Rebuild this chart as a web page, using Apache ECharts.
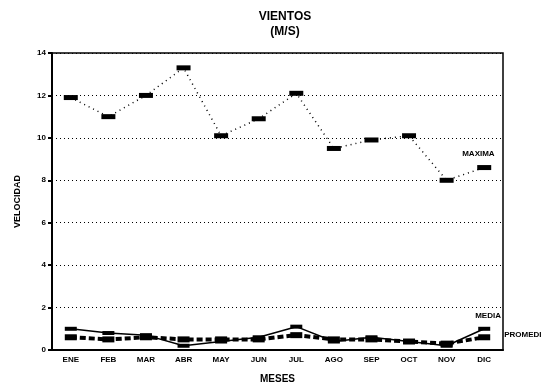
<!DOCTYPE html>
<html>
<head>
<meta charset="utf-8">
<script src="https://cdn.jsdelivr.net/npm/echarts@6/dist/echarts.min.js"></script>
<style>
  html, body { margin: 0; padding: 0; background: #fff; }
  #chart { width: 541px; height: 389px; }
</style>
</head>
<body>
<div id="chart"></div>
<script>
const meses = ['ENE', 'FEB', 'MAR', 'ABR', 'MAY', 'JUN', 'JUL', 'AGO', 'SEP', 'OCT', 'NOV', 'DIC']
const maxima = [11.9, 11.0, 12.0, 13.3, 10.1, 10.9, 12.1, 9.5, 9.9, 10.1, 8.0, 8.6]
const media = [1.0, 0.8, 0.7, 0.2, 0.4, 0.6, 1.1, 0.4, 0.6, 0.4, 0.2, 1.0]
const promedio = [0.6, 0.5, 0.6, 0.5, 0.5, 0.5, 0.7, 0.5, 0.5, 0.4, 0.3, 0.6]
const yTicks = [0, 2, 4, 6, 8, 10, 12, 14]

const font = 'Liberation Sans, Arial, sans-serif'
const chart = echarts.init(document.getElementById('chart'))

chart.setOption({
  animation: false,
  title: {
    text: 'VIENTOS\n(M/S)',
    left: 280,
    top: 4,
    textAlign: 'center',
    textStyle: { fontFamily: font, fontSize: 12, fontWeight: 'bold', color: '#000', lineHeight: 15 }
  },
  grid: { left: 52, right: 38, top: 53, bottom: 35, show: true, borderColor: '#000', borderWidth: 1.5 },
  xAxis: {
    type: 'category',
    data: meses,
    boundaryGap: true,
    name: 'MESES',
    nameLocation: 'middle',
    nameGap: 24,
    nameTextStyle: { fontFamily: font, fontSize: 10, fontWeight: 'bold', color: '#000' },
    axisLine: { lineStyle: { color: '#000', width: 2 } },
    axisTick: { show: false },
    axisLabel: { fontFamily: font, fontSize: 8, fontWeight: 'bold', color: '#000', margin: 6 }
  },
  yAxis: {
    type: 'value',
    min: 0,
    max: 14,
    interval: 2,
    name: 'VELOCIDAD',
    nameLocation: 'middle',
    nameGap: 30,
    nameTextStyle: { fontFamily: font, fontSize: 9, fontWeight: 'bold', color: '#000' },
    axisLine: { show: true, lineStyle: { color: '#000', width: 2 } },
    axisTick: { show: true, length: 4, lineStyle: { color: '#000', width: 2 } },
    axisLabel: {
      fontFamily: font, fontSize: 8, fontWeight: 'bold', color: '#000', margin: 6,
      formatter: v => yTicks.includes(v) ? String(v) : ''
    },
    splitLine: { show: true, lineStyle: { color: '#000', type: [1, 3], width: 1.2 } }
  },
  series: [
    {
      name: 'MAXIMA',
      type: 'line',
      data: maxima,
      symbol: 'rect',
      symbolSize: [14, 5],
      itemStyle: { color: '#000' },
      lineStyle: { color: '#000', width: 1.5, type: [1, 4] },
      endLabel: {
        show: true, formatter: 'MAXIMA', offset: [-30, -14],
        fontFamily: font, fontSize: 8, fontWeight: 'bold', color: '#000'
      }
    },
    {
      name: 'MEDIA',
      type: 'line',
      data: media,
      symbol: 'rect',
      symbolSize: [12, 4],
      itemStyle: { color: '#000' },
      lineStyle: { color: '#000', width: 1.5 },
      endLabel: {
        show: true, formatter: 'MEDIA', offset: [-17, -13],
        fontFamily: font, fontSize: 8, fontWeight: 'bold', color: '#000'
      }
    },
    {
      name: 'PROMEDIO',
      type: 'line',
      data: promedio,
      symbol: 'rect',
      symbolSize: [12, 6],
      itemStyle: { color: '#000' },
      lineStyle: { color: '#000', width: 4, type: [6, 3] },
      endLabel: {
        show: true, formatter: 'PROMEDIO', offset: [12, -2],
        fontFamily: font, fontSize: 8, fontWeight: 'bold', color: '#000'
      }
    }
  ]
})
</script>
</body>
</html>
